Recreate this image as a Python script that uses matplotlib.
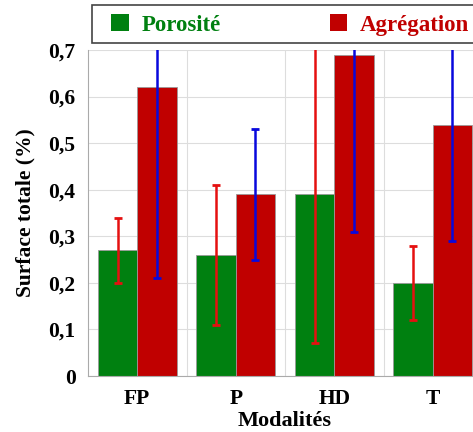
import numpy as np
import matplotlib.pyplot as plt
from matplotlib.patches import Patch, Rectangle

plt.rcParams['font.family'] = 'Liberation Serif'
plt.rcParams['font.weight'] = 'bold'
plt.rcParams['axes.labelweight'] = 'bold'

modalites = ['FP', 'P', 'HD', 'T']
porosite = [0.27, 0.26, 0.39, 0.20]
porosite_err = [0.07, 0.15, 0.32, 0.08]
agregation = [0.62, 0.39, 0.69, 0.54]
agregation_err = [0.41, 0.14, 0.38, 0.25]

green = '#008010'
red = '#C00000'

fig = plt.figure(figsize=(4.73, 4.32), dpi=100)
ax = fig.add_axes([88/473, 1 - 376/432, 394/473, 326/432])

x = np.arange(len(modalites))
w = 0.4
ax.bar(x - w/2, porosite, w, color=green, edgecolor='#9a9a9a', linewidth=0.6, zorder=2)
ax.bar(x + w/2, agregation, w, color=red, edgecolor='#9a9a9a', linewidth=0.6, zorder=2)
ax.errorbar(x - w/2, porosite, yerr=porosite_err, fmt='none', ecolor='#E51010',
            elinewidth=1.8, capsize=3, capthick=2, zorder=3)
ax.errorbar(x + w/2, agregation, yerr=agregation_err, fmt='none', ecolor='#0808DD',
            elinewidth=1.8, capsize=3, capthick=2, zorder=3)

ax.set_xlim(-0.5, 3.5)
ax.set_ylim(0, 0.7)
ax.set_yticks(np.arange(0, 0.71, 0.1))
ax.set_yticklabels(['0'] + ['0,%d' % i for i in range(1, 8)])
ax.set_xticks(x)
ax.set_xticklabels(modalites)
ax.set_xticks([0.5, 1.5, 2.5], minor=True)
ax.tick_params(which='both', length=0, labelsize=15.5)
ax.tick_params(axis='x', pad=9)
ax.tick_params(axis='y', pad=9)
ax.grid(axis='y', color='#dddddd', linewidth=0.8, zorder=0)
ax.grid(axis='x', which='minor', color='#dddddd', linewidth=0.8, zorder=0)
ax.set_axisbelow(True)
for s in ['top', 'right']:
    ax.spines[s].set_visible(False)
for s in ['left', 'bottom']:
    ax.spines[s].set_color('#aaaaaa')
    ax.spines[s].set_linewidth(0.8)

ax.set_ylabel('Surface totale (%)', fontsize=15.5, labelpad=9)
ax.set_xlabel('Modalités', fontsize=16, labelpad=2)

# legend box
fig.patches.append(Rectangle((92/473, 1 - 43/432), 400/473, 38/432, transform=fig.transFigure,
                             facecolor='white', edgecolor='#444444', linewidth=1.2, zorder=5))
handles = [Patch(facecolor=green), Patch(facecolor=red)]
leg = fig.legend(handles, ['Porosité', 'Agrégation'], ncol=2,
                 bbox_to_anchor=(111/473, 1 - 25/432), loc='center left',
                 frameon=False, fontsize=16.5,
                 handlelength=0.78, handleheight=0.78, handletextpad=0.55,
                 columnspacing=4.75, borderpad=0, borderaxespad=0,
                 labelcolor=[green, red])
leg.set_zorder(6)

fig.savefig('out.png', dpi=100)
